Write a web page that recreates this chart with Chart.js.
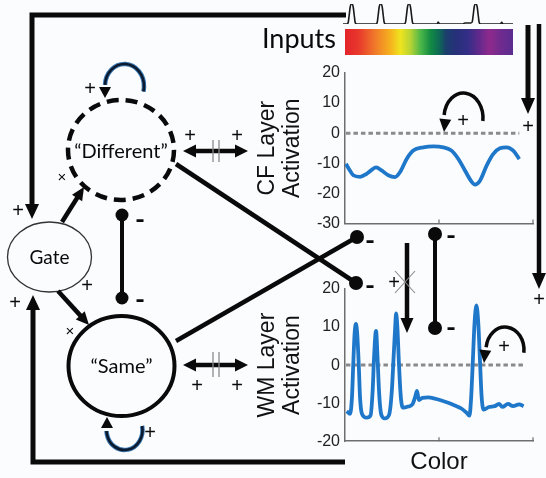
<!DOCTYPE html>
<html>
<head>
<meta charset="utf-8">
<script src="https://cdn.jsdelivr.net/npm/chart.js@4.4.1/dist/chart.umd.min.js"></script>
<style>
  html, body { margin: 0; padding: 0; background: #fbfcfe; }
  #wrap { position: relative; width: 546px; height: 478px; overflow: hidden; }
  canvas { position: absolute; }
  #inputs { left: 340px; top: 0; }
  #cf { left: 250px; top: 58px; }
  #wm { left: 250px; top: 274px; }
  #diagram { left: 0; top: 0; pointer-events: none; }
</style>
</head>
<body>
<div id="wrap">
  <canvas id="inputs" width="176" height="28"></canvas>
  <canvas id="cf" width="296" height="180"></canvas>
  <canvas id="wm" width="296" height="204"></canvas>
  <canvas id="diagram" width="546" height="478"></canvas>
</div>
<script>
// ---- Input trace (stimulus positions along the colour axis) ----
const inputColor = [0, 3.7, 5.2, 6.2, 7.2, 8.2, 9.2, 10.2, 11.2, 12.2, 13.7,
  32.7, 34.2, 35.2, 36.2, 37.2, 38.2, 39.2, 40.2, 41.2, 42.7,
  61, 62.5, 63.5, 64.5, 65.5, 66.5, 67.5, 68.5, 69.5, 71,
  94, 95.3, 96.5, 120, 122, 127,
  127.7, 129.2, 130.2, 131.2, 132.2, 133.2, 134.2, 135.2, 136.2, 137.7,
  157.5, 158.7, 160, 170];
const inputLevel = [0, 0, 0.08, 0.45, 0.85, 1, 1, 0.85, 0.45, 0.08, 0,
  0, 0.08, 0.45, 0.85, 1, 1, 0.85, 0.45, 0.08, 0,
  0, 0.08, 0.45, 0.85, 1, 1, 0.85, 0.45, 0.08, 0,
  0, 0.1, 0, 0, 0.05, 0.05,
  0.05, 0.1, 0.45, 0.85, 1, 1, 0.85, 0.45, 0.08, 0,
  0, 0.09, 0, 0];

// ---- CF layer activation ----
const cfColor = [0.5, 2.7, 4.4, 8, 11.5, 14.2, 16.5, 19.5, 23, 26.6, 29.3, 32.8, 36.3, 41.7,
  47, 52.3, 56.7, 60.3, 63.8, 67.4, 69.1, 71.8, 75.4, 78.9, 82.4, 86, 89.5, 92.7];
const cfActivation = [-10.2, -12.5, -14, -14.5, -13.5, -12.2, -11.4, -12.4, -14, -14.6, -12.9, -8.6, -5.8, -4.7,
  -4.4, -4.7, -5.8, -8.6, -12.4, -16.2, -17.1, -15.8, -10.7, -6.9, -5, -4.7, -5.8, -8.6];
const cfTicks = [20, 10, 0, -10, -20, -30];
const cfZeroSpan = [0.5, 92.7];

// ---- WM layer activation ----
const wmColor = [0.9, 2.7, 3.7, 4.4, 5.1, 5.8, 6.5, 7.3, 8, 9, 11.5, 13.6, 14.7, 15.4, 16.5, 17.3,
  18.2, 19.3, 21.2, 23.5, 24.9, 26, 26.7, 27.2, 27.9, 28.7, 29.7, 31, 33.6, 35.9, 37.3, 38.3,
  39.3, 41.2, 44.2, 47.8, 51.3, 54.9, 58.4, 61.9, 64.6, 66.2, 67.1, 68, 68.9, 69.9, 70.9,
  71.8, 72.7, 73.8, 76.6, 79.6, 81.9, 83.7, 86.7, 89.4, 92.6, 95];
const wmActivation = [-12.1, -12.8, -8.5, 0.3, 8.2, 10.8, 8.2, 0.3, -8.5, -12.8, -13.8, -13.2, -6.8, 1.5, 9, 2,
  -7.7, -13, -14, -13, -6.8, 3.5, 10, 13.6, 9.5, 0.3, -8.5, -11.2, -10.9, -10.3, -8.4, -6.8,
  -9.2, -8.6, -8.5, -8.8, -9.3, -9.9, -10.6, -11.4, -12.5, -13.3, -8.5, 1.1, 11, 15.7, 11,
  1.1, -8.5, -11.7, -11, -10.8, -10.2, -11, -10.2, -10.8, -10.3, -10.8];
const wmTicks = [20, 10, 0, -10, -20];
const wmZeroSpan = [0.5, 94.7];

const AXIS_FONT = '"Liberation Sans", Arial, sans-serif';
const pts = (xs, ys) => xs.map((x, i) => ({ x: x, y: ys[i] }));

// small inward tick marks on the bottom axis (middle and end)
const innerTicks = {
  id: 'innerTicks',
  afterDraw(chart) {
    const { ctx, scales: { x }, chartArea } = chart;
    ctx.save();
    ctx.strokeStyle = '#6e6e6e';
    ctx.lineWidth = 1.2;
    [50, 100].forEach(v => {
      const px = x.getPixelForValue(v);
      ctx.beginPath();
      ctx.moveTo(px, chartArea.bottom);
      ctx.lineTo(px, chartArea.bottom - 4);
      ctx.stroke();
    });
    ctx.restore();
  }
};

function layerChart(id, xs, ys, zeroSpan, yMin, yMax, tickValues, titleLines, withXTitle, padBottom) {
  const axisBorder = { display: true, color: '#6e6e6e', width: 1.5 };
  const noGrid = { display: true, drawOnChartArea: false, drawTicks: false };
  return new Chart(document.getElementById(id), {
    type: 'line',
    data: {
      datasets: [
        { data: pts(xs, ys), borderColor: '#1f77c9', borderWidth: 3.8, pointRadius: 0,
          cubicInterpolationMode: 'monotone', fill: false },
        { data: zeroSpan.map(x => ({ x: x, y: 0 })), borderColor: '#8a8a8a', borderWidth: 3,
          borderDash: [4.5, 3], pointRadius: 0, fill: false }
      ]
    },
    options: {
      responsive: false, animation: false, events: [],
      layout: { padding: { left: 0, right: 13, top: 15, bottom: padBottom } },
      plugins: { legend: { display: false }, tooltip: { enabled: false } },
      scales: {
        x: {
          type: 'linear', min: 0, max: 100,
          ticks: { display: false }, grid: noGrid, border: axisBorder,
          title: { display: withXTitle, text: 'Color', color: '#111',
                   font: { family: AXIS_FONT, size: 24, lineHeight: 1.2 }, padding: { top: 7, bottom: 0 } }
        },
        y: {
          min: yMin, max: yMax,
          afterBuildTicks: s => { s.ticks = tickValues.map(v => ({ value: v })); },
          afterFit: s => { s.width = 95; },
          ticks: { padding: 5, color: '#222', font: { family: AXIS_FONT, size: 16 } },
          grid: noGrid, border: axisBorder,
          title: { display: true, text: titleLines, color: '#111',
                   font: { family: AXIS_FONT, size: 23, lineHeight: 1.05 }, padding: { top: 6, bottom: 0 } }
        }
      }
    },
    plugins: [innerTicks]
  });
}

new Chart(document.getElementById('inputs'), {
  type: 'line',
  data: { datasets: [{ data: pts(inputColor, inputLevel), borderColor: '#1a1a1a', borderWidth: 1.6,
                       pointRadius: 0, cubicInterpolationMode: 'monotone', fill: false }] },
  options: {
    responsive: false, animation: false, events: [],
    layout: { padding: { left: 3, right: 3, top: 4, bottom: 4 } },
    plugins: { legend: { display: false }, tooltip: { enabled: false } },
    scales: { x: { type: 'linear', display: false, min: 0, max: 170 },
              y: { display: false, min: 0, max: 1 } }
  }
});

layerChart('cf', cfColor, cfActivation, cfZeroSpan, -30, 20, cfTicks, ['CF Layer', 'Activation'], false, 13);
layerChart('wm', wmColor, wmActivation, wmZeroSpan, -20, 20, wmTicks, ['WM Layer', 'Activation'], true, 1);

// ---- Network diagram ----
const g = document.getElementById('diagram').getContext('2d');
const INK = '#0a0a0a';
const PI = Math.PI;

function seg(p, w, col) {
  g.save();
  g.strokeStyle = col || INK; g.lineWidth = w; g.lineJoin = 'miter'; g.lineCap = 'butt';
  g.beginPath(); g.moveTo(p[0][0], p[0][1]);
  for (let i = 1; i < p.length; i++) g.lineTo(p[i][0], p[i][1]);
  g.stroke(); g.restore();
}
function head(tx, ty, ang, len, wid) {
  const c = Math.cos(ang), s = Math.sin(ang);
  const bx = tx - len * c, by = ty - len * s;
  g.beginPath();
  g.moveTo(tx, ty);
  g.lineTo(bx + wid / 2 * s, by - wid / 2 * c);
  g.lineTo(bx - wid / 2 * s, by + wid / 2 * c);
  g.closePath(); g.fillStyle = INK; g.fill();
}
function arrow(x1, y1, x2, y2, w, len, wid) {
  const a = Math.atan2(y2 - y1, x2 - x1);
  seg([[x1, y1], [x2 - (len - 2) * Math.cos(a), y2 - (len - 2) * Math.sin(a)]], w);
  head(x2, y2, a, len, wid);
}
function ball(x, y, r) { g.beginPath(); g.arc(x, y, r, 0, 2 * PI); g.fillStyle = INK; g.fill(); }
function txt(s, x, y, font, col) {
  g.font = font; g.fillStyle = col || INK; g.textAlign = 'center'; g.textBaseline = 'middle';
  g.fillText(s, x, y);
}
const plus = (x, y) => txt('+', x, y, '20px "Liberation Sans"');
const minus = (x, y) => txt('-', x, y, 'bold 27px Lato');
const times = (x, y) => txt('×', x, y, '15px "Liberation Sans"');
function loop(cx, cy, rx, ry, a0, a1, blue) {
  if (blue) {
    g.beginPath(); g.ellipse(cx, cy, rx, ry, 0, a0, a1);
    g.strokeStyle = '#3a78b0'; g.lineWidth = 4.5; g.stroke();
  }
  g.beginPath(); g.ellipse(cx, cy, rx, ry, 0, a0, a1);
  g.strokeStyle = blue ? '#0c1a30' : INK; g.lineWidth = blue ? 2.6 : 3.5; g.stroke();
}

// colour spectrum under the input trace
const grad = g.createLinearGradient(345, 0, 513, 0);
[[0, '#e3242b'], [0.08, '#e8382c'], [0.18, '#f07a2a'], [0.27, '#f6b21e'], [0.33, '#efe41f'],
 [0.39, '#b6d334'], [0.45, '#4db748'], [0.51, '#138a43'], [0.56, '#0e6a55'], [0.6, '#1a3f6c'],
 [0.66, '#27307a'], [0.73, '#332e86'], [0.8, '#63298c'], [0.86, '#8e2a8c'], [0.93, '#6f2b8f'],
 [1, '#5b2c90']].forEach(s => grad.addColorStop(s[0], s[1]));
g.fillStyle = grad;
g.fillRect(345, 29, 168, 26);

g.font = '27px Lato'; g.fillStyle = INK; g.textAlign = 'left'; g.textBaseline = 'alphabetic';
g.fillText('Inputs', 262, 48);

// outer feedback frame into the gate
seg([[346, 15], [32, 15], [32, 206]], 5);
head(32, 219, PI / 2, 15, 14);
plus(18, 211);
seg([[345, 462], [33, 462], [33, 308]], 5);
head(33, 295, -PI / 2, 15, 14);
plus(15, 303);

// gate node
g.beginPath(); g.ellipse(49.5, 257, 42, 35, 0, 0, 2 * PI);
g.strokeStyle = '#333'; g.lineWidth = 1.3; g.stroke();
txt('Gate', 49.5, 258, '19px Lato');

arrow(62, 222, 84, 187, 4.5, 13, 12);
times(62, 178);
arrow(58, 291, 89, 325, 4.5, 13, 12);
plus(87, 286);
times(70, 332);

// "Different" node
g.save();
g.beginPath(); g.ellipse(121, 150, 53, 50, 0, 0, 2 * PI);
g.setLineDash([12, 7]); g.strokeStyle = INK; g.lineWidth = 4.5; g.stroke();
g.restore();
txt('\u201CDifferent\u201D', 121, 152, '20px Lato');

// "Same" node
g.beginPath(); g.ellipse(121.5, 366, 53, 50, 0, 0, 2 * PI);
g.strokeStyle = INK; g.lineWidth = 4; g.stroke();
txt('\u201CSame\u201D', 121.5, 367, '20px Lato');

// self-excitation loops
loop(124.5, 86, 19.5, 22, PI + 0.05, 2 * PI + 0.25, true);
head(105, 98, PI / 2, 11, 12);
plus(90, 89);
loop(124.5, 430, 18, 20, -0.2, PI - 0.05, true);
head(107, 417, -PI / 2, 11, 12);
plus(150, 433);

// node <-> layer couplings
function coupling(y, p1, p2, barTop, barBottom) {
  seg([[193, y], [238, y]], 4.5);
  head(183, y, PI, 13, 13);
  head(248, y, 0, 13, 13);
  seg([[213, barTop], [213, barBottom]], 1.3, '#8a8a8a');
  seg([[219, barTop], [219, barBottom]], 1.3, '#8a8a8a');
  plus(p1[0], p1[1]); plus(p2[0], p2[1]);
}
coupling(151, [190, 136], [237, 136], 140, 162);
coupling(365, [197, 386], [237, 386], 352, 377);

// mutual inhibition between the two nodes
seg([[122, 215], [122, 298]], 4);
ball(122, 215, 6.5); ball(122, 298, 6.5);
minus(140, 220); minus(140, 300);

// crossed inhibitory projections to the layers
seg([[176, 164], [356, 283]], 4.5); ball(356, 283, 7);
seg([[176, 341], [357, 237]], 4.5); ball(357, 237, 7);
minus(370, 241); minus(370, 286);

// CF -> WM excitation (gated) and WM -| CF inhibition
arrow(407, 243, 407, 333, 4.5, 15, 13);
plus(394, 283);
seg([[395, 271], [415, 293]], 1.1, '#8a8a8a');
seg([[415, 271], [395, 293]], 1.1, '#8a8a8a');
seg([[435, 234], [435, 328]], 4);
ball(435, 234, 7); ball(435, 328, 7);
minus(451, 236); minus(451, 328);

// input drive to both layers
arrow(528, 25, 528, 114, 5, 16, 14);
plus(528, 127);
arrow(539, 24, 539, 289, 4.5, 16, 14);
plus(539, 300);

// recurrent excitation inside each layer
loop(463.5, 118, 19.5, 25, PI + 0.12, 2 * PI + 0.12, false);
head(444, 132, PI / 2 + 0.1, 13, 12);
plus(463, 121);
loop(505, 350, 19, 23, PI + 0.12, 2 * PI + 0.12, false);
head(484, 363, PI / 2 + 0.1, 13, 12);
plus(504, 347);
</script>
</body>
</html>
